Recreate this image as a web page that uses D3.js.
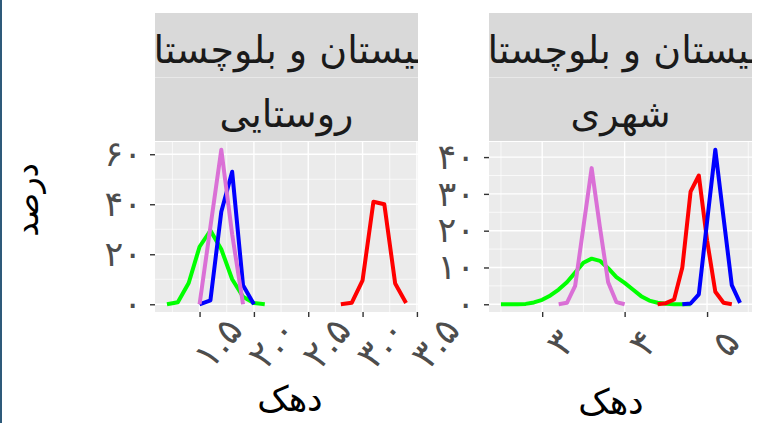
<!DOCTYPE html>
<html><head><meta charset="utf-8">
<script src="https://cdn.jsdelivr.net/npm/d3@7"></script>
<style>html,body{margin:0;padding:0;background:#fff;}svg{display:block;}</style>
</head><body>
<script>
// ---------- data ----------
const regionLabel = "سیستان و بلوچستان";
const panelLabels = ["روستایی", "شهری"];
const yTitle = "درصد";
const xTitle = "دهک";
const seriesColors = ["#00FF00", "#FF0000", "#0000FF", "#DA70D6"];

// rural panel
const ruralGreenX = [1.2,1.3,1.4,1.5,1.6,1.7,1.8,1.9,2.0,2.1];
const ruralGreenY = [0,0.8,8.5,23,29.5,22,10,3,0.5,0];
const ruralRedX = [2.8,2.9,3.0,3.1,3.2,3.3,3.4];
const ruralRedY = [0,0.6,9.6,41,40,8.3,0.5];
const ruralBlueX = [1.5,1.6,1.7,1.8,1.9,2.0];
const ruralBlueY = [0,1.6,37,53,7.6,0];
const ruralVioletX = [1.5,1.6,1.7,1.8,1.9];
const ruralVioletY = [0,31,61.8,28,0];
const ruralXTicks = [1.5,2.0,2.5,3.0,3.5];
const ruralXTickLabels = ["۱.۵","۲.۰","۲.۵","۳.۰","۳.۵"];
const ruralYTicks = [0,20,40,60];
const ruralYTickLabels = ["۰","۲۰","۴۰","۶۰"];

// urban panel
const urbanGreenX = [2.5,2.6,2.7,2.8,2.9,3.0,3.1,3.2,3.3,3.4,3.5,3.6,3.7,3.8,3.9,4.0,4.1,4.2,4.3,4.4,4.5,4.6,4.7,4.8];
const urbanGreenY = [0,0,0,0.1,0.5,1.2,2.4,4,6,8.6,11.3,12.4,11.8,9.8,7.4,5.8,4,2.2,1,0.4,0.15,0,0,0];
const urbanRedX = [4.4,4.5,4.6,4.7,4.8,4.9,5.0,5.1,5.2,5.3];
const urbanRedY = [0,0.3,1.3,10,30.6,35,17.4,3.4,0.4,0];
const urbanBlueX = [4.7,4.8,4.9,5.0,5.1,5.2,5.3,5.4];
const urbanBlueY = [0,0.2,2.7,22.4,42,23.5,5.2,0.4];
const urbanVioletX = [3.2,3.3,3.4,3.5,3.6,3.7,3.8,3.9,4.0];
const urbanVioletY = [0,0.4,5,21,37,21,6,0.6,0];
const urbanXTicks = [3,4,5];
const urbanXTickLabels = ["۳","۴","۵"];
const urbanYTicks = [0,10,20,30,40];
const urbanYTickLabels = ["۰","۱۰","۲۰","۳۰","۴۰"];

// ---------- build ----------
const W = 757, H = 423;
const FONT = "'DejaVu Sans', sans-serif";
const svg = d3.select("body").append("svg").attr("width", W).attr("height", H);
svg.append("rect").attr("x",0).attr("y",0).attr("width",W).attr("height",H).attr("fill","#fff");
svg.append("rect").attr("x",0).attr("y",0).attr("width",2).attr("height",H).attr("fill","#2E5A7A");

const zip = (xs, ys) => xs.map((x,i)=>({x, y: ys[i]}));

const panels = [
  {
    label: panelLabels[0], x0:155, x1:418, titleX:290, titleY:411, yPad:8,
    series: [zip(ruralGreenX,ruralGreenY), zip(ruralRedX,ruralRedY), zip(ruralBlueX,ruralBlueY), zip(ruralVioletX,ruralVioletY)],
    xTicks: ruralXTicks, xLabels: ruralXTickLabels, yTicks: ruralYTicks, yLabels: ruralYTickLabels
  },
  {
    label: panelLabels[1], x0:489, x1:752, titleX:611, titleY:414, yPad:9,
    series: [zip(urbanGreenX,urbanGreenY), zip(urbanRedX,urbanRedY), zip(urbanBlueX,urbanBlueY), zip(urbanVioletX,urbanVioletY)],
    xTicks: urbanXTicks, xLabels: urbanXTickLabels, yTicks: urbanYTicks, yLabels: urbanYTickLabels
  }
];

const py0 = 142, py1 = 312;
const stripTop = 13, stripMid = 77;

function expand(ext){ const r = ext[1]-ext[0]; return [ext[0]-0.05*r, ext[1]+0.05*r]; }
function minorOf(ticks, dom){
  const step = ticks[1]-ticks[0];
  const out = [];
  for (let i=-1;i<ticks.length;i++){
    const v = (i<0? ticks[0]-step/2 : ticks[i]+step/2);
    if (v>=dom[0] && v<=dom[1]) out.push(v);
  }
  return out;
}

panels.forEach((p, pi) => {
  const all = p.series.flat();
  const xDom = expand(d3.extent(all, d=>d.x));
  const yDom = expand(d3.extent(all, d=>d.y));
  const x = d3.scaleLinear().domain(xDom).range([p.x0, p.x1]);
  const y = d3.scaleLinear().domain(yDom).range([py1, py0]);
  const g = svg.append("g");

  g.append("rect").attr("x",p.x0).attr("y",py0).attr("width",p.x1-p.x0).attr("height",py1-py0).attr("fill","#EBEBEB");
  minorOf(p.xTicks, xDom).forEach(v => g.append("line").attr("x1",x(v)).attr("x2",x(v)).attr("y1",py0).attr("y2",py1).attr("stroke","#fff").attr("stroke-width",0.7));
  minorOf(p.yTicks, yDom).forEach(v => g.append("line").attr("y1",y(v)).attr("y2",y(v)).attr("x1",p.x0).attr("x2",p.x1).attr("stroke","#fff").attr("stroke-width",0.7));
  p.xTicks.forEach(v => g.append("line").attr("x1",x(v)).attr("x2",x(v)).attr("y1",py0).attr("y2",py1).attr("stroke","#fff").attr("stroke-width",1.4));
  p.yTicks.forEach(v => g.append("line").attr("y1",y(v)).attr("y2",y(v)).attr("x1",p.x0).attr("x2",p.x1).attr("stroke","#fff").attr("stroke-width",1.4));

  const cid = "clip"+pi;
  svg.append("clipPath").attr("id",cid).append("rect").attr("x",p.x0).attr("y",py0).attr("width",p.x1-p.x0).attr("height",py1-py0);
  const line = d3.line().x(d=>x(d.x)).y(d=>y(d.y));
  const lg = g.append("g").attr("clip-path",`url(#${cid})`);
  p.series.forEach((s, si) => {
    lg.append("path").attr("d", line(s)).attr("fill","none").attr("stroke", seriesColors[si])
      .attr("stroke-width", 4).attr("stroke-linejoin","round").attr("stroke-linecap","butt");
  });

  const yAxis = d3.axisLeft(y).tickValues(p.yTicks).tickFormat((d,i)=>p.yLabels[i]).tickSize(5).tickPadding(p.yPad);
  const ya = g.append("g").attr("transform",`translate(${p.x0},0)`).call(yAxis);
  ya.select(".domain").remove();
  ya.selectAll("line").attr("stroke","#333").attr("stroke-width",1.4);
  ya.selectAll("text").attr("fill","#4D4D4D").style("font-family",FONT).style("font-size","35px");

  const xAxis = d3.axisBottom(x).tickValues(p.xTicks).tickFormat((d,i)=>p.xLabels[i]).tickSize(5);
  const xa = g.append("g").attr("transform",`translate(0,${py1})`).call(xAxis);
  xa.select(".domain").remove();
  xa.selectAll("line").attr("stroke","#333").attr("stroke-width",1.4);
  xa.selectAll("text")
    .attr("y", null).attr("dy", null)
    .attr("text-anchor","middle").attr("dominant-baseline","central")
    .attr("transform", "translate(18,31) rotate(-50)")
    .attr("fill","#4D4D4D").style("font-family",FONT).style("font-size","37px");

  const sid = "sclip"+pi;
  svg.append("clipPath").attr("id",sid).append("rect").attr("x",p.x0).attr("y",stripTop).attr("width",p.x1-p.x0).attr("height",(py0-1)-stripTop);
  const sg = g.append("g").attr("clip-path",`url(#${sid})`);
  sg.append("rect").attr("x",p.x0).attr("y",stripTop).attr("width",p.x1-p.x0).attr("height",stripMid-stripTop).attr("fill","#D9D9D9");
  sg.append("rect").attr("x",p.x0).attr("y",stripMid+1).attr("width",p.x1-p.x0).attr("height",(py0-1)-(stripMid+1)).attr("fill","#D9D9D9");
  sg.append("rect").attr("x",p.x0).attr("y",stripMid).attr("width",p.x1-p.x0).attr("height",1).attr("fill","#E8E8E8");
  const cx = (p.x0+p.x1)/2;
  sg.append("text").attr("x",cx).attr("y",63).attr("text-anchor","middle").attr("direction","rtl")
    .attr("fill","#1A1A1A").style("font-family",FONT).style("font-size","38px").text(regionLabel);
  sg.append("text").attr("x",cx).attr("y",127).attr("text-anchor","middle").attr("direction","rtl")
    .attr("fill","#1A1A1A").style("font-family",FONT).style("font-size","38px").text(p.label);

  svg.append("text").attr("x",p.titleX).attr("y",p.titleY).attr("text-anchor","middle").attr("direction","rtl")
    .attr("fill","#000").style("font-family",FONT).style("font-size","35px").text(xTitle);
});

svg.append("text").attr("transform","translate(38,200) rotate(-90)").attr("text-anchor","middle").attr("direction","rtl")
  .attr("fill","#000").style("font-family",FONT).style("font-size","32px").text(yTitle);
</script>
</body></html>
